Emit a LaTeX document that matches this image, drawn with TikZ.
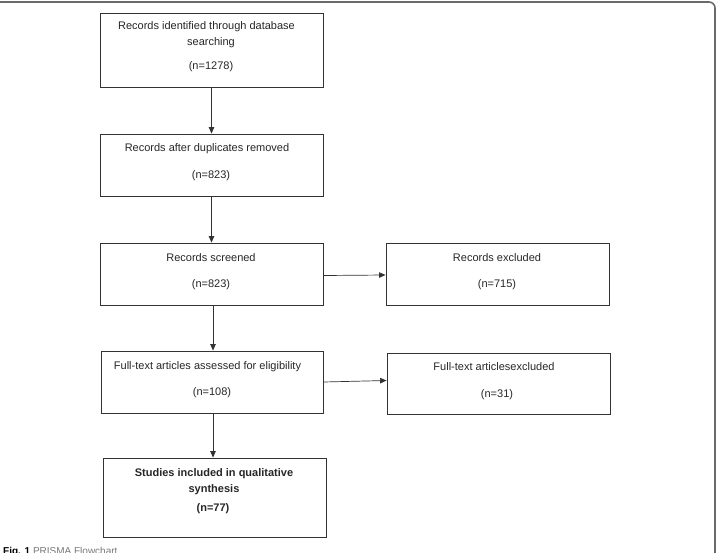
\documentclass[tikz,border=0pt]{standalone}
\usepackage{fontspec}
\setmainfont{Liberation Sans}
\usetikzlibrary{arrows.meta}
\definecolor{lineC}{HTML}{333333}
\definecolor{frameC}{HTML}{6A6A6A}
\definecolor{capC}{HTML}{777777}
\tikzset{
  box/.style={draw=lineC, line width=0.9pt, inner sep=0pt, rectangle},
  lbl/.style={inner sep=0pt, anchor=base, text=black!85, font=\fontsize{11}{13}\selectfont},
  blbl/.style={lbl, font=\fontsize{11}{13}\selectfont\bfseries},
  arr/.style={draw=lineC, line width=0.7pt, -{Triangle[length=6.5pt,width=5.5pt]}}
}
\begin{document}
\begin{tikzpicture}[x=1pt,y=-1pt]
\useasboundingbox (0,0) rectangle (717,552);
\clip (0,0) rectangle (717,552);
% outer frame
\draw[frameC, line width=1.6pt, rounded corners=6pt] (-5,2) -- (715,2) -- (715,560);
% boxes
\node[box, minimum width=223pt, minimum height=74pt] (b1) at (211.5,50) {};
\node[box, minimum width=223pt, minimum height=62pt] (b2) at (211.5,165) {};
\node[box, minimum width=223pt, minimum height=62pt] (b3) at (211.5,274) {};
\node[box, minimum width=223pt, minimum height=62pt] (b4) at (497.5,274) {};
\node[box, minimum width=222pt, minimum height=62pt] (b5) at (212,382) {};
\node[box, minimum width=223pt, minimum height=61pt] (b6) at (498.5,383.5) {};
\node[box, minimum width=223pt, minimum height=79pt] (b7) at (214.5,497.5) {};
% texts
\node[lbl] (t1a) at (206.5,29) {Records identified through database};
\node[lbl] (t1b) at (211,45) {searching};
\node[lbl] (t1c) at (211,69) {(n=1278)};
\node[lbl] (t2a) at (207,151) {Records after duplicates removed};
\node[lbl] (t2b) at (211,178) {(n=823)};
\node[lbl] (t3a) at (211,261) {Records screened};
\node[lbl] (t3b) at (211,287) {(n=823)};
\node[lbl] (t4a) at (497,261) {Records excluded};
\node[lbl] (t4b) at (497,287) {(n=715)};
\node[lbl] (t5a) at (207.5,369) {Full-text articles assessed for eligibility};
\node[lbl] (t5b) at (212,395) {(n=108)};
\node[lbl] (t6a) at (494,370) {Full-text articlesexcluded};
\node[lbl] (t6b) at (497,397) {(n=31)};
\node[blbl] (t7a) at (214,476) {Studies included in qualitative};
\node[blbl] (t7b) at (214,492) {synthesis};
\node[blbl] (t7c) at (213,511) {(n=77)};
% connectors
\draw[arr] (b1.south) -- (b1.south |- b2.north);
\draw[arr] (b2.south) -- (b2.south |- b3.north);
\draw[arr] ([xshift=1.5pt]b3.south) -- ([xshift=1.5pt]b3.south |- b5.north);
\draw[arr] ([xshift=1pt]b5.south) -- ([xshift=1pt]b5.south |- b7.north);
\draw[arr] ([yshift=-1.5pt]b3.east) -- ([yshift=-1pt]b3.east -| b4.west);
\draw[arr] (b5.east) -- ([yshift=1.5pt]b5.east -| b6.west);
% caption (cut off at bottom)
\node[inner sep=0pt, anchor=base west, font=\fontsize{10}{12}\selectfont] (cap) at (3,554) {\textbf{Fig. 1}\ \textcolor{capC}{PRISMA Flowchart}};
\end{tikzpicture}
\end{document}
